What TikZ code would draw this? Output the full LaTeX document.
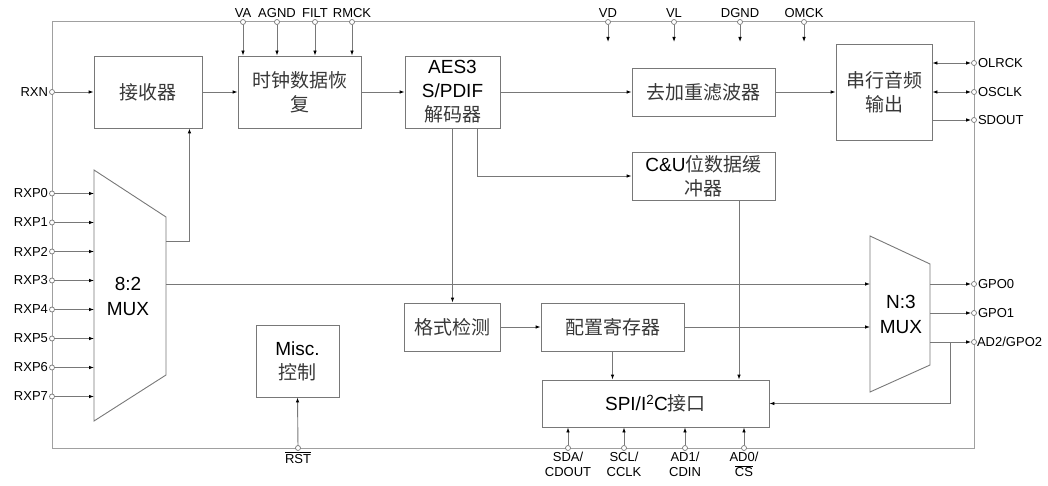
\documentclass[tikz,border=0pt]{standalone}
\usepackage{fontspec}
\setmainfont{Liberation Sans}
\newfontfamily\cjk{Noto Sans CJK SC}
\usetikzlibrary{arrows.meta}
\definecolor{wiregray}{HTML}{787878}
\definecolor{framegray}{HTML}{A0A0A0}
\definecolor{cjkgray}{HTML}{383838}
\newcommand{\zhtxt}[1]{{\cjk\color{cjkgray}#1}} % chinese text
\tikzset{>={Latex[length=5pt,width=3.6pt,color=black]}}

\begin{document}
\begin{tikzpicture}[x=1pt,y=-1pt,
  wire/.style={draw=wiregray,line width=0.9pt},
  sig/.style={wire,->},
  bisig/.style={wire,<->},
  blk/.style={wire,align=center,inner sep=0pt,font=\fontsize{19}{24}\selectfont},
  muxtxt/.style={align=center,inner sep=0pt,font=\fontsize{19}{25}\selectfont},
  pin/.style={circle,draw=wiregray,line width=0.7pt,fill=white,inner sep=0pt,minimum size=5pt,label distance=2pt},
  pinl/.style={pin,label distance=5pt}, % left side pins
  pinr/.style={pin,label distance=3.5pt}, % right side pins
  every label/.style={font=\fontsize{13}{15.5}\selectfont,inner sep=1pt}]
  \useasboundingbox (0,0) rectangle (1048,486);
  \draw[framegray,line width=1pt] (52,22) rectangle (974,448); % chip outline

  % blocks
  \node[blk,minimum width=108,minimum height=72] (rcv) at (148,92) {\zhtxt{接收器}};
  \node[blk,minimum width=123,minimum height=72] (cdr) at (299.5,92) {\zhtxt{时钟数据恢}\\\zhtxt{复}};
  \node[blk,minimum width=95,minimum height=72] (dec) at (452.5,92) {AES3\\S/PDIF\\\zhtxt{解码器}};
  \node[blk,minimum width=143,minimum height=48] (deemph) at (703.5,92) {\zhtxt{去加重滤波器}};
  \node[blk,minimum width=96,minimum height=96] (sao) at (884,92) {\zhtxt{串行音频}\\\zhtxt{输出}};
  \node[blk,minimum width=143,minimum height=48] (cub) at (703.5,176) {C\&U\zhtxt{位数据缓}\\\zhtxt{冲器}};
  \node[blk,minimum width=96,minimum height=48] (fmt) at (452,327) {\zhtxt{格式检测}};
  \node[blk,minimum width=143,minimum height=48] (cfg) at (612.5,327) {\zhtxt{配置寄存器}};
  \node[blk,minimum width=227,minimum height=47] (spi) at (655.5,403.5) {SPI/I\textsuperscript{2}C\zhtxt{接口}};
  \node[blk,minimum width=83,minimum height=72] (misc) at (297.5,361) {Misc.\\\zhtxt{控制}};

  % multiplexers
  \draw[wire] (94,170) -- (166,217) -- (166,375) -- (94,421) -- cycle; % 8:2
  \node[muxtxt] (mux8) at (128,296) {8:2\\MUX};
  \coordinate (m8l) at (94,296);
  \coordinate (m8up) at (166,241);
  \coordinate (m8mid) at (166,284);
  \draw[wire] (870,236) -- (930,264) -- (930,365) -- (870,392) -- cycle; % N:3
  \node[muxtxt] (mux3) at (901,314) {N:3\\MUX};
  \coordinate (m3l) at (870,314);
  \coordinate (m3r) at (930,314);
  \coordinate (tap) at (950,314);

  % internal paths
  \draw[sig] (rcv) -- (cdr);
  \draw[sig] (cdr) -- (dec);
  \draw[sig] (dec) -- (deemph);
  \draw[sig] (deemph) -- (sao);
  \draw[sig] (dec.south) -- (dec.south |- fmt.north);
  \draw[sig] ([xshift=24.5pt]dec.south) |- (cub.west);
  \draw[sig] (fmt) -- (cfg);
  \draw[sig] (cfg.south) -- (cfg.south |- spi.north);
  \draw[sig] ([xshift=35.5pt]cub.south) -- ([xshift=35.5pt]cub.south |- spi.north);
  \draw[sig] (m8up) -| ([xshift=-13pt]rcv.south east);
  \draw[sig] (m8mid) -- (m8mid -| m3l);
  \draw[sig] (cfg.east) -- (cfg.east -| m3l);

  % top pins
  \foreach \x/\t in {243/VA,277/AGND,315/FILT,352/RMCK}{
    \node[pin,label=above:\t] (p\t) at (\x,22) {};
    \draw[sig] (p\t) -- (p\t |- cdr.north);
  }
  \foreach \x/\t in {608/VD,674/VL,740/DGND,804/OMCK}{
    \node[pin,label=above:\t] (p\t) at (\x,22) {};
    \draw[sig] (p\t) -- ++(0,20); % supply, no block
  }

  % left pins
  \node[pinl,label=left:RXN] (rxn) at (52,92) {};
  \draw[sig] (rxn) -- (rcv);
  \foreach \i in {0,...,7}{
    \pgfmathsetmacro\y{193.5+29*\i}
    \node[pinl,label=left:RXP\i] (rxp\i) at (52,\y) {};
    \draw[sig] (rxp\i) -- (rxp\i -| m8l);
  }

  % right pins
  \foreach \y/\t in {63/OLRCK,92/OSCLK}{
    \node[pinr,label=right:\t] (p\t) at (974,\y) {};
    \draw[bisig] (sao.east |- p\t) -- (p\t);
  }
  \node[pinr,label=right:SDOUT] (pSDOUT) at (974,120) {};
  \draw[sig] (sao.east |- pSDOUT) -- (pSDOUT);
  \node[pinr,label=right:GPO0] (gpo0) at (974,284) {};
  \node[pinr,label=right:GPO1] (gpo1) at (974,313) {};
  \node[pin,label={[inner sep=0pt]right:AD2/GPO2}] (gpo2) at (974,342) {};
  \draw[sig] (m3r |- gpo0) -- (gpo0);
  \draw[sig] (m3r |- gpo1) -- (gpo1);
  \draw[sig] (m3r |- gpo2) -- (gpo2);
  \draw[sig] (tap |- gpo2) |- (spi.east);

  % bottom pins
  \node[pin,label=below:$\overline{\mbox{RST}}$] (rst) at (298,448) {};
  \draw[sig] (rst) -- (misc.south);
  \node[pin,label={[align=center]below:SDA/\\CDOUT}] (sda) at (568,448) {};
  \node[pin,label={[align=center]below:SCL/\\CCLK}] (scl) at (624,448) {};
  \node[pin,label={[align=center]below:AD1/\\CDIN}] (ad1) at (685,448) {};
  \node[pin,label={[align=center]below:AD0/\\$\overline{\mbox{CS}}$}] (ad0) at (744,448) {};
  \foreach \p in {sda,scl,ad1,ad0}
    \draw[sig] (\p) -- (\p |- spi.south);
\end{tikzpicture}
\end{document}
